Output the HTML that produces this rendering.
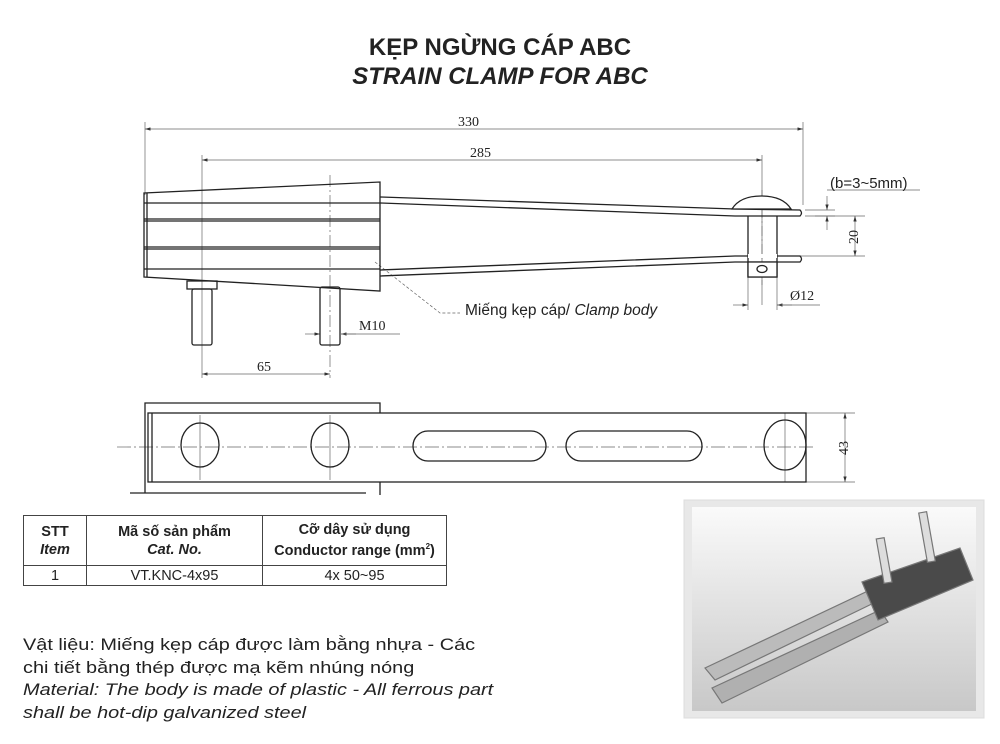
<!DOCTYPE html>
<html><head><meta charset="utf-8"><style>
body{margin:0;background:#fff;width:1000px;height:744px;overflow:hidden;font-family:"Liberation Sans",sans-serif;position:relative}
.t{position:absolute;left:0;width:1000px;text-align:center;font-weight:bold;font-size:24px;color:#222}
table{position:absolute;left:23px;top:515px;border-collapse:collapse;font-size:14.5px;color:#222}
td{border:1px solid #444;text-align:center;padding:0;line-height:18px}
.m{position:absolute;left:23px;top:634px;font-size:17px;line-height:22.5px;color:#222;transform:scaleX(1.17);transform-origin:0 0;white-space:nowrap}
</style></head><body>
<div class="t" style="top:34px">KẸP NGỪNG CÁP ABC</div>
<div class="t" style="top:63px;font-style:italic">STRAIN CLAMP FOR ABC</div>
<svg width="1000" height="744" style="position:absolute;left:0;top:0" font-family="Liberation Serif" fill="none" stroke="#222">
<defs><marker id="a" viewBox="0 0 10 6" refX="10" refY="3" markerWidth="8" markerHeight="5" orient="auto-start-reverse"><path d="M0,0L10,3L0,6z" fill="#333" stroke="none"/></marker></defs>
<g stroke-width="0.7" stroke="#666">
<line x1="145" y1="122" x2="145" y2="195"/><line x1="803" y1="122" x2="803" y2="205"/>
<line x1="145" y1="129" x2="803" y2="129" marker-start="url(#a)" marker-end="url(#a)"/>
<line x1="202" y1="155" x2="202" y2="378"/><line x1="762" y1="155" x2="762" y2="305"/>
<line x1="202" y1="160" x2="762" y2="160" marker-start="url(#a)" marker-end="url(#a)"/>
<line x1="330" y1="175" x2="330" y2="378" stroke-dasharray="12,3,2,3"/>
<line x1="202" y1="374" x2="330" y2="374" marker-start="url(#a)" marker-end="url(#a)"/>
<line x1="305" y1="334" x2="320" y2="334" marker-end="url(#a)"/><line x1="356" y1="334" x2="341" y2="334" marker-end="url(#a)"/><line x1="341" y1="334" x2="400" y2="334"/>
<line x1="748" y1="277" x2="748" y2="310"/><line x1="777" y1="277" x2="777" y2="310"/>
<line x1="733" y1="305" x2="748" y2="305" marker-end="url(#a)"/><line x1="792" y1="305" x2="777" y2="305" marker-end="url(#a)"/><line x1="777" y1="305" x2="820" y2="305"/>
<line x1="805" y1="210" x2="835" y2="210"/><line x1="805" y1="216" x2="835" y2="216"/><line x1="800" y1="256" x2="865" y2="256"/><line x1="815" y1="216" x2="865" y2="216"/>
<line x1="827" y1="196" x2="827" y2="210" marker-end="url(#a)"/><line x1="827" y1="230" x2="827" y2="216" marker-end="url(#a)"/>
<line x1="827" y1="190" x2="920" y2="190"/>
<line x1="855" y1="216" x2="855" y2="256" marker-start="url(#a)" marker-end="url(#a)"/>
<path d="M375,262 L440,313 L460,313" stroke-dasharray="3,2"/>
<line x1="806" y1="413" x2="855" y2="413"/><line x1="806" y1="482" x2="855" y2="482"/>
<line x1="845" y1="413" x2="845" y2="482" marker-start="url(#a)" marker-end="url(#a)"/>
<line x1="117" y1="447" x2="815" y2="447" stroke-dasharray="14,3,2,3"/>
<line x1="200" y1="415" x2="200" y2="480"/><line x1="330" y1="415" x2="330" y2="480"/><line x1="785" y1="413" x2="785" y2="482"/>
<line x1="762" y1="190" x2="762" y2="285" stroke-dasharray="10,3,2,3"/>
</g>
<g stroke-width="1.3">
<path d="M144,193 L380,182 L380,291 L144,277 Z"/>
<line x1="147" y1="193" x2="147" y2="277"/>
<line x1="144" y1="203" x2="380" y2="203"/><line x1="144" y1="219" x2="380" y2="219"/><line x1="144" y1="221" x2="380" y2="221"/>
<line x1="144" y1="247" x2="380" y2="247"/><line x1="144" y1="249" x2="380" y2="249"/><line x1="144" y1="269" x2="380" y2="269"/>
<path d="M380,197 L735,209 L800,210 Q803,213 800,216 L735,216 L380,203"/>
<path d="M380,270 L735,256 L800,256 Q803,259 800,262 L735,262 L380,276"/>
<path d="M732,209 Q740,196 761,196 Q783,196 791,209 Z" fill="#fff"/>
<path d="M748,216 L748,277 L777,277 L777,216"/><line x1="748" y1="256" x2="777" y2="256" stroke="#fff" stroke-width="4"/>
<path d="M748,262 L748,277 L777,277 L777,262 Z" fill="#fff"/>
<ellipse cx="762" cy="269" rx="5" ry="3.5"/>
<rect x="187" y="281" width="30" height="8"/><rect x="192" y="289" width="20" height="56" rx="2"/>
<rect x="320" y="287" width="20" height="58" rx="2"/>
<path d="M145,413 L145,403 L380,403 L380,413"/><path d="M130,493 L366,493 M380,482 L380,495 M145,413 L145,493"/>
<rect x="148" y="413" width="658" height="69"/><line x1="152" y1="413" x2="152" y2="482"/>
<ellipse cx="200" cy="445" rx="19" ry="22"/><ellipse cx="330" cy="445" rx="19" ry="22"/><ellipse cx="785" cy="445" rx="21" ry="25"/>
<rect x="413" y="431" width="133" height="30" rx="15"/><rect x="566" y="431" width="136" height="30" rx="15"/>
</g>
<g fill="#222" stroke="none" font-size="14">
<text x="458" y="126">330</text><text x="470" y="157">285</text><text x="257" y="371">65</text>
<text x="359" y="330">M10</text><text x="790" y="300">Ø12</text>
<text x="830" y="188" font-family="Liberation Sans" font-size="15">(b=3~5mm)</text>
<text transform="translate(858,244) rotate(-90)">20</text><text transform="translate(848,455) rotate(-90)">43</text>
<text x="465" y="315" font-family="Liberation Sans" font-size="15.5">Miếng kẹp cáp/ <tspan font-style="italic">Clamp body</tspan></text>
</g>
<rect x="684" y="500" width="300" height="218" fill="#e8e8e8" stroke="#ddd"/>
<defs><linearGradient id="g" x1="0" y1="0" x2="0" y2="1"><stop offset="0" stop-color="#fafafa"/><stop offset="1" stop-color="#c8c8c8"/></linearGradient></defs>
<rect x="692" y="507" width="284" height="204" fill="url(#g)" stroke="none"/>
<g stroke="#777" stroke-width="1.2">
<path d="M705,668 L870,590 L880,600 L715,680 Z" fill="#bbb"/>
<path d="M712,688 L880,610 L888,622 L722,703 Z" fill="#b0b0b0"/>
<path d="M862,582 L960,548 L973,580 L878,620 Z" fill="#4a4a4a"/>
<rect x="880" y="538" width="8" height="45" fill="#ddd" transform="rotate(-10 884 560)"/>
<rect x="923" y="512" width="8" height="50" fill="#ddd" transform="rotate(-10 927 537)"/>
</g>
</svg>
<table>
<tr style="height:50px"><td style="width:62px"><b>STT</b><br><b><i>Item</i></b></td><td style="width:175px"><b>Mã số sản phẩm</b><br><b><i>Cat. No.</i></b></td><td style="width:183px"><b>Cỡ dây sử dụng</b><br><b>Conductor range (mm<sup style="font-size:8px">2</sup>)</b></td></tr>
<tr style="height:20px"><td>1</td><td>VT.KNC-4x95</td><td>4x 50~95</td></tr>
</table>
<div class="m">Vật liệu: Miếng kẹp cáp được làm bằng nhựa - Các<br>chi tiết bằng thép được mạ kẽm nhúng nóng<br><i>Material: The body is made of plastic - All ferrous part<br>shall be hot-dip galvanized steel</i></div>
</body></html>
